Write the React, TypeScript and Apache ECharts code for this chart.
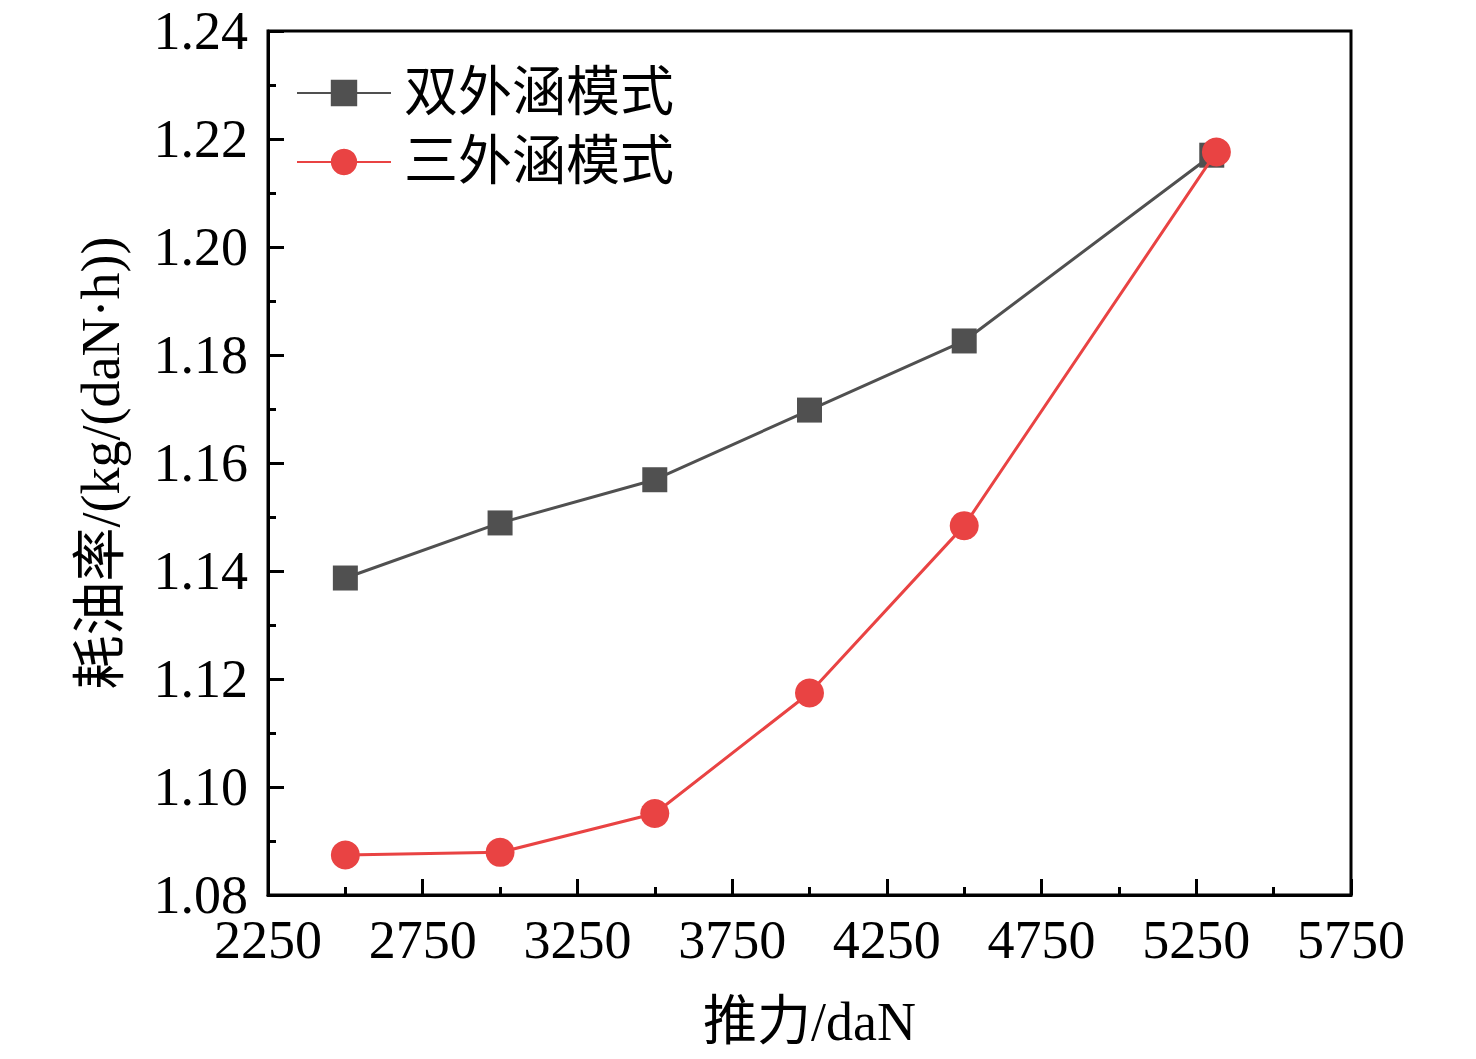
import React, { useEffect, useRef } from "react";
import * as echarts from "echarts";

const thrust2 = [2500, 3000, 3500, 4000, 4500, 5300];
const sfc2 = [1.1387, 1.1489, 1.1569, 1.1698, 1.1826, 1.217];
const thrust3 = [2500, 3000, 3500, 4000, 4500, 5315];
const sfc3 = [1.0874, 1.0879, 1.0951, 1.1174, 1.1484, 1.2176];
const seriesNames = ["双外涵模式", "三外涵模式"];
const xTitle = "推力/daN";
const yTitle = "耗油率/(kg/(daN·h))";

const FONT = "'Liberation Serif', 'Times New Roman', 'Noto Sans CJK SC', serif";

export default function App() {
  const ref = useRef<HTMLDivElement>(null);
  useEffect(() => {
    if (!ref.current) return;
    const chart = echarts.init(ref.current, undefined, { renderer: "svg" });
    const axisCommon = {
      axisLine: { show: true, lineStyle: { color: "#000", width: 3 } },
      axisTick: { show: true, inside: true, length: 16, lineStyle: { color: "#000", width: 3 } },
      minorTick: { show: true, splitNumber: 2, length: 8, lineStyle: { color: "#000", width: 3 } },
      splitLine: { show: false },
      minorSplitLine: { show: false },
      nameTextStyle: { fontFamily: FONT, fontSize: 54, color: "#000" },
    };
    chart.setOption({
      animation: false,
      backgroundColor: "#fff",
      grid: {
        left: 268,
        right: 125,
        top: 31,
        bottom: 164,
        show: true,
        borderColor: "#000",
        borderWidth: 3,
        backgroundColor: "transparent",
      },
      legend: {
        orient: "vertical",
        left: 296,
        top: 66,
        padding: 0,
        itemWidth: 94,
        itemHeight: 33,
        itemGap: 15,
        data: seriesNames,
        textStyle: {
          fontFamily: FONT,
          fontSize: 54,
          lineHeight: 54,
          color: "#000",
          padding: [0, 0, 0, 8],
        },
      },
      xAxis: {
        type: "value",
        min: 2250,
        max: 5750,
        interval: 500,
        name: xTitle,
        nameLocation: "middle",
        nameGap: 100,
        ...axisCommon,
        axisLabel: {
          show: true,
          margin: 18,
          fontFamily: FONT,
          fontSize: 54,
          color: "#000",
          formatter: (v: number) => String(v),
          showMinLabel: true,
          showMaxLabel: true,
        },
      },
      yAxis: {
        type: "value",
        min: 1.08,
        max: 1.24,
        interval: 0.02,
        name: yTitle,
        nameLocation: "middle",
        nameGap: 140,
        ...axisCommon,
        axisLabel: {
          show: true,
          margin: 20,
          fontFamily: FONT,
          fontSize: 54,
          color: "#000",
          formatter: (v: number) => v.toFixed(2),
          showMinLabel: true,
          showMaxLabel: true,
        },
      },
      series: [
        {
          name: seriesNames[0],
          type: "line",
          data: thrust2.map((x, i) => [x, sfc2[i]]),
          symbol: "rect",
          symbolSize: 25,
          lineStyle: { color: "#505050", width: 3 },
          itemStyle: { color: "#505050" },
          z: 2,
        },
        {
          name: seriesNames[1],
          type: "line",
          data: thrust3.map((x, i) => [x, sfc3[i]]),
          symbol: "circle",
          symbolSize: 29,
          lineStyle: { color: "#E94343", width: 3 },
          itemStyle: { color: "#E94343" },
          z: 3,
        },
      ],
    });
    return () => chart.dispose();
  }, []);
  return (
    <div
      ref={ref}
      style={{ position: "absolute", left: 0, top: 0, width: 1476, height: 1059, background: "#fff" }}
    />
  );
}
